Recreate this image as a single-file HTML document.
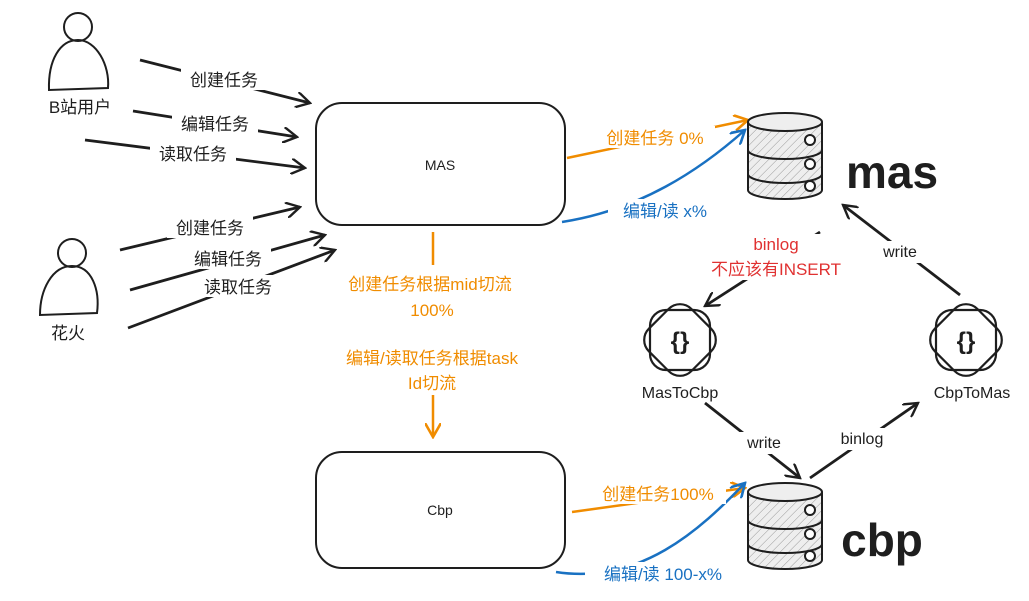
<!DOCTYPE html>
<html><head><meta charset="utf-8"><style>
html,body{margin:0;padding:0;background:#fff;}
svg text{font-family:"Liberation Sans","Noto Sans CJK SC",sans-serif;}
</style></head><body>
<svg width="1029" height="596" viewBox="0 0 1029 596" xmlns="http://www.w3.org/2000/svg">
<defs>
<pattern id="h" width="6" height="6" patternUnits="userSpaceOnUse" patternTransform="rotate(45)"><rect width="6" height="6" fill="#eee"/><line x1="0" y1="0" x2="0" y2="6" stroke="#999" stroke-width="1"/></pattern>
<marker id="ak" markerWidth="16" markerHeight="16" refX="14" refY="8" orient="auto" markerUnits="userSpaceOnUse"><path d="M0,0 L14,8 L0,16" fill="none" stroke="#1e1e1e" stroke-width="2.4"/></marker>
<marker id="ao" markerWidth="16" markerHeight="16" refX="14" refY="8" orient="auto" markerUnits="userSpaceOnUse"><path d="M0,0 L14,8 L0,16" fill="none" stroke="#f08c00" stroke-width="2.6"/></marker>
<marker id="ab" markerWidth="16" markerHeight="16" refX="14" refY="8" orient="auto" markerUnits="userSpaceOnUse"><path d="M0,0 L14,8 L0,16" fill="none" stroke="#1971c2" stroke-width="2.6"/></marker>
</defs>
<g fill="none" stroke="#1e1e1e" stroke-width="2">
<circle cx="78" cy="27" r="14"/><path d="M49,90 C48,60 60,40 78,40 C96,40 110,65 108,88 Z"/>
<circle cx="72" cy="253" r="14"/><path d="M40,315 C40,290 52,266 72,266 C92,266 100,290 97,313 Z"/>
<rect x="316" y="103" width="249" height="122" rx="26"/>
<rect x="316" y="452" width="249" height="116" rx="26"/>
</g>
<g stroke="#1e1e1e" stroke-width="2.8" fill="none" marker-end="url(#ak)">
<path d="M140,60 L310,103"/><path d="M133,111 L297,137"/><path d="M85,140 L305,168"/>
<path d="M120,250 L300,207"/><path d="M130,290 L325,235"/><path d="M128,328 L335,250"/>
<path d="M820,232 L705,306"/><path d="M960,295 L843,205"/>
<path d="M705,403 L800,478"/><path d="M810,478 L918,403"/>
</g>
<g stroke="#f08c00" stroke-width="2.5" fill="none" marker-end="url(#ao)">
<path d="M567,158 L748,120"/><path d="M572,512 L745,488"/><path d="M433,395 L433,437"/>
<line x1="433" y1="232" x2="433" y2="265" marker-end="none"/>
</g>
<g stroke="#1971c2" stroke-width="2.5" fill="none" marker-end="url(#ab)">
<path d="M562,222 C640,210 700,170 745,130"/><path d="M556,572 C640,585 700,530 745,483"/>
</g>
<g stroke="#1e1e1e" stroke-width="2">
<g transform="translate(748,112)">
<path d="M0,10 L0,78 A37,9 0 0 0 74,78 L74,10" fill="url(#h)"/>
<ellipse cx="37" cy="10" rx="37" ry="9" fill="#eee"/>
<path d="M0,38 A37,9 0 0 0 74,38 M0,62 A37,9 0 0 0 74,62" fill="none"/>
<circle cx="62" cy="28" r="5" fill="#fff"/><circle cx="62" cy="52" r="5" fill="#fff"/><circle cx="62" cy="74" r="5" fill="#fff"/>
</g>
<g transform="translate(748,482)">
<path d="M0,10 L0,78 A37,9 0 0 0 74,78 L74,10" fill="url(#h)"/>
<ellipse cx="37" cy="10" rx="37" ry="9" fill="#eee"/>
<path d="M0,38 A37,9 0 0 0 74,38 M0,62 A37,9 0 0 0 74,62" fill="none"/>
<circle cx="62" cy="28" r="5" fill="#fff"/><circle cx="62" cy="52" r="5" fill="#fff"/><circle cx="62" cy="74" r="5" fill="#fff"/>
</g>
</g>
<g fill="none" stroke="#1e1e1e" stroke-width="2.2">
<g transform="translate(680,340)"><rect x="-30" y="-30" width="60" height="60" rx="16"/><rect x="-30" y="-30" width="60" height="60" rx="16" transform="rotate(45)"/></g>
<g transform="translate(966,340)"><rect x="-30" y="-30" width="60" height="60" rx="16"/><rect x="-30" y="-30" width="60" height="60" rx="16" transform="rotate(45)"/></g>
</g>
<g font-size="24" font-weight="bold" text-anchor="middle" fill="#1e1e1e">
<text x="680" y="349">{}</text><text x="966" y="349">{}</text>
</g>
<g font-size="17" text-anchor="middle" fill="#1e1e1e">
<text x="80" y="113">B站用户</text><text x="68" y="339">花火</text>
<rect x="181" y="68" width="86" height="22" fill="#fff"/><text x="224" y="86">创建任务</text>
<rect x="172" y="112" width="86" height="22" fill="#fff"/><text x="215" y="130">编辑任务</text>
<rect x="150" y="142" width="86" height="22" fill="#fff"/><text x="193" y="160">读取任务</text>
<rect x="167" y="216" width="86" height="22" fill="#fff"/><text x="210" y="234">创建任务</text>
<rect x="185" y="247" width="86" height="22" fill="#fff"/><text x="228" y="265">编辑任务</text>
<rect x="195" y="275" width="86" height="22" fill="#fff"/><text x="238" y="293">读取任务</text>
<text x="440" y="170" font-size="14">MAS</text><text x="440" y="515" font-size="14">Cbp</text>
<text x="680" y="398" font-size="16">MasToCbp</text><text x="972" y="398" font-size="16">CbpToMas</text>
<rect x="736" y="432" width="56" height="22" fill="#fff"/><text x="764" y="448" font-size="16">write</text>
<rect x="832" y="428" width="60" height="22" fill="#fff"/><text x="862" y="444" font-size="16">binlog</text>
<rect x="870" y="241" width="60" height="22" fill="#fff"/><text x="900" y="257" font-size="16">write</text>
<text x="892" y="188" font-size="46" font-weight="bold">mas</text>
<text x="882" y="556" font-size="46" font-weight="bold">cbp</text>
</g>
<g font-size="17" text-anchor="middle" fill="#f08c00">
<text x="430" y="290">创建任务根据mid切流</text><text x="432" y="316">100%</text>
<text x="432" y="364">编辑/读取任务根据task</text><text x="432" y="389">Id切流</text>
<rect x="595" y="126" width="120" height="22" fill="#fff"/><text x="655" y="144">创建任务 0%</text>
<rect x="590" y="482" width="136" height="22" fill="#fff"/><text x="658" y="500">创建任务100%</text>
</g>
<g font-size="17" text-anchor="middle" fill="#1971c2">
<rect x="608" y="199" width="114" height="22" fill="#fff"/><text x="665" y="217">编辑/读 x%</text>
<rect x="585" y="562" width="156" height="22" fill="#fff"/><text x="663" y="580">编辑/读 100-x%</text>
</g>
<g font-size="17" text-anchor="middle" fill="#e03131">
<rect x="696" y="234" width="162" height="46" fill="#fff"/>
<text x="776" y="250">binlog</text><text x="776" y="275">不应该有INSERT</text>
</g>
</svg>
</body></html>
